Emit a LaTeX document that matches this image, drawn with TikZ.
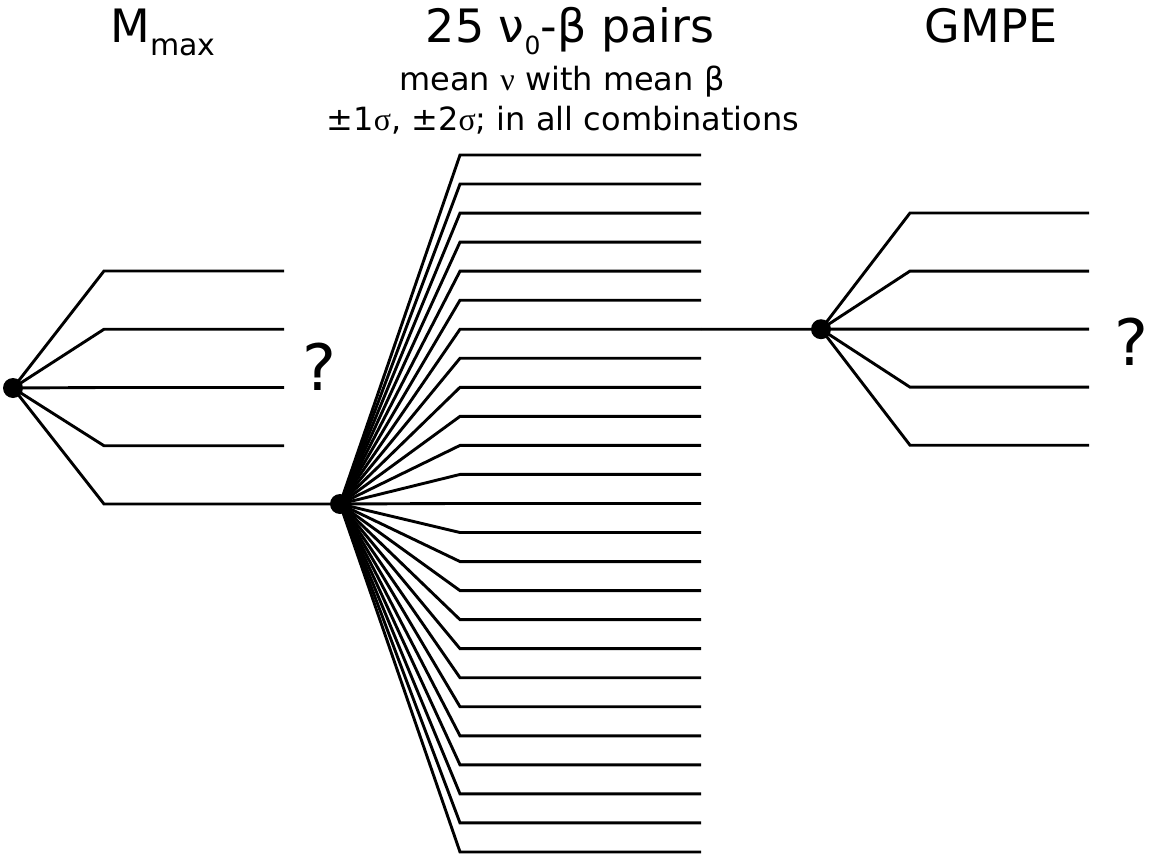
\documentclass[tikz,border=0pt]{standalone}
\usepackage{fontspec}
\setmainfont{DejaVu Sans}
\newfontfamily\serifgr{Liberation Serif}
\begin{document}
\begin{tikzpicture}[x=1pt,y=-1pt,
  br/.style={line width=2.9pt},
  dot/.style={circle, fill=black, inner sep=0pt, minimum size=20pt},
  title/.style={font=\fontsize{46}{54}\selectfont, inner sep=0pt, anchor=base},
  subtitle/.style={font=\fontsize{32}{38}\selectfont, inner sep=0pt, anchor=base},
  qmark/.style={font=\fontsize{64}{70}\selectfont, inner sep=0pt, anchor=base}]
\useasboundingbox (0,0) rectangle (1149,859);
% tree nodes
\node[dot] (L) at (13,388) {};
\node[dot] (M) at (340,504) {};
\node[dot] (R) at (821,329.2) {};
% left fan
\foreach \i in {1,...,4} {
  \pgfmathsetmacro\yy{271+58.25*(\i-1)}
  \coordinate (Lb\i) at (104,\yy);
  \coordinate (Le\i) at (284,\yy);
  \draw[br] (L.center) -- (Lb\i) -- (Le\i);
}
\coordinate (Lb5) at (104,504);
\draw[br] (L.center) -- (Lb5) -- (M.center);
% middle fan
\foreach \i in {0,...,24} {
  \pgfmathsetmacro\yy{155+29.04*\i}
  \coordinate (Mb\i) at (460,\yy);
  \coordinate (Me\i) at (701,\yy);
  \draw[br] (M.center) -- (Mb\i) -- (Me\i);
}
\draw[br] (Me6) -- (R.center);
% right fan
\foreach \i in {0,...,4} {
  \pgfmathsetmacro\yy{213+58.05*\i}
  \coordinate (Rb\i) at (910,\yy);
  \coordinate (Re\i) at (1089,\yy);
  \draw[br] (R.center) -- (Rb\i) -- (Re\i);
}
% texts
\node[title] (tM) at (163,43) {M\raisebox{-13pt}{\fontsize{30}{30}\selectfont max}};
\node[title] (tP) at (570,43) {25 ν\raisebox{-12pt}{\fontsize{25}{25}\selectfont 0}-β pairs};
\node[subtitle] (l2) at (562,90) {mean {\serifgr ν} with mean β};
\node[subtitle] (l3) at (563,130) {±1{\serifgr σ}, ±2{\serifgr σ}; in all combinations};
\node[title] (tG) at (991,43) {GMPE};
\node[qmark] (q1) at (319,390) {?};
\node[qmark] (q2) at (1131,365) {?};
\end{tikzpicture}
\end{document}
